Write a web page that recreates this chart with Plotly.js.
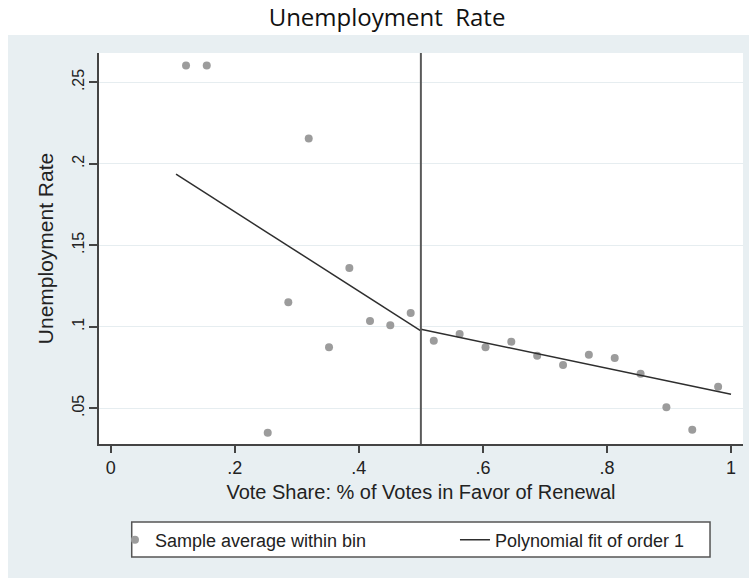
<!DOCTYPE html>
<html><head><meta charset="utf-8">
<script src="https://cdn.plot.ly/plotly-3.0.1.min.js"></script>
<style>html,body{margin:0;padding:0;background:#fff;}</style>
</head><body>
<div id="chart" style="width:749px;height:580px;"></div>
<script>
// Binned sample averages
const binX = [0.1214, 0.1548, 0.2531, 0.2863, 0.3192, 0.3519, 0.3847, 0.4180, 0.4507, 0.4836,
              0.5208, 0.5625, 0.6042, 0.6458, 0.6875, 0.7292, 0.7708, 0.8125, 0.8542, 0.8958, 0.9375, 0.9792];
const binY = [0.2604, 0.2604, 0.0350, 0.1150, 0.2156, 0.0874, 0.1361, 0.1036, 0.1009, 0.1085,
              0.0915, 0.0956, 0.0874, 0.0909, 0.0823, 0.0766, 0.0829, 0.0809, 0.0712, 0.0506, 0.0369, 0.0633];
// Linear fits on each side of the cutoff
const fitLeftX = [0.1053, 0.5];
const fitLeftY = [0.1937, 0.0975];
const fitRightX = [0.5, 1.0];
const fitRightY = [0.0985, 0.0586];
const cutoff = 0.5;
// Ticks
const xTickVals = [0, 0.2, 0.4, 0.6, 0.8, 1];
const xTickText = ["0", ".2", ".4", ".6", ".8", "1"];
const yTickVals = [0.05, 0.1, 0.15, 0.2, 0.25];
const yTickText = [".05", ".1", ".15", ".2", ".25"];
const seriesNames = ["Sample average within bin", "Polynomial fit of order 1"];

const FONT = "Liberation Sans, Arial, Helvetica, sans-serif";
const fitColor = "#2e2e2e";

const traces = [
  {x: binX, y: binY, type: "scatter", mode: "markers", name: seriesNames[0], legendwidth: 295,
   marker: {color: "#9c9c9c", size: 8}},
  {x: fitLeftX, y: fitLeftY, type: "scatter", mode: "lines", name: seriesNames[1],
   legendgroup: "fit", line: {color: fitColor, width: 1.5}},
  {x: fitRightX, y: fitRightY, type: "scatter", mode: "lines", name: seriesNames[1],
   legendgroup: "fit", showlegend: false, line: {color: fitColor, width: 1.5}}
];

const layout = {
  width: 749, height: 580,
  margin: {l: 99, r: 6, t: 53, b: 136, pad: 0},
  paper_bgcolor: "#ffffff",
  plot_bgcolor: "#ffffff",
  showlegend: true,
  title: {text: "Unemployment\u00a0 Rate", font: {family: "Open Sans, Noto Sans, sans-serif", size: 24, color: "#111"},
          x: 0.5167, xanchor: "center", xref: "container", y: 0.969, yanchor: "middle", yref: "container"},
  xaxis: {
    range: [-0.0189, 1.0193], tickmode: "array", tickvals: xTickVals, ticktext: xTickText,
    ticks: "outside", ticklen: 7, tickwidth: 1.5, tickcolor: "#444",
    showline: true, linecolor: "#444", linewidth: 1.5, showgrid: false, zeroline: false,
    tickfont: {family: FONT, size: 18, color: "#222"},
    title: {text: "Vote Share: % of Votes in Favor of Renewal", font: {family: FONT, size: 20, color: "#222"}, standoff: 8}
  },
  yaxis: {
    range: [0.0281, 0.268], tickmode: "array", tickvals: yTickVals, ticktext: yTickText, tickangle: -90,
    ticks: "outside", ticklen: 8, tickwidth: 1.5, tickcolor: "#444", ticklabelstandoff: -1,
    showline: true, linecolor: "#444", linewidth: 1.5, showgrid: true, gridcolor: "#e6edf0", gridwidth: 1, zeroline: false,
    tickfont: {family: FONT, size: 16, color: "#222"},
    title: {text: "Unemployment Rate", font: {family: FONT, size: 21, color: "#222"}, standoff: 10}
  },
  legend: {
    orientation: "h", x: 0.0248, xanchor: "left", y: -0.2455, yanchor: "middle",
    bgcolor: "rgba(0,0,0,0)", borderwidth: 0,
    font: {family: FONT, size: 18, color: "#222"},
    itemclick: false
  },
  shapes: [
    {type: "rect", xref: "paper", yref: "paper", x0: -0.1413, x1: 1.0093, y0: -0.3427, y1: 1.046,
     fillcolor: "#e8eff2", line: {width: 0}, layer: "below"},
    {type: "rect", xref: "paper", yref: "paper", x0: 0, x1: 1, y0: 0, y1: 1,
     fillcolor: "#ffffff", line: {width: 0}, layer: "below"},
    {type: "rect", xref: "paper", yref: "paper", x0: 0.0508, x1: 0.9488, y0: -0.289, y1: -0.1995,
     fillcolor: "#ffffff", line: {color: "#555", width: 1.5}, layer: "below"},
    {type: "line", xref: "x", yref: "paper", x0: cutoff, x1: cutoff, y0: 0, y1: 1,
     line: {color: "#5a5a5a", width: 2}, layer: "above"}
  ]
};

Plotly.newPlot("chart", traces, layout, {displayModeBar: false, responsive: false});
</script>
</body></html>
